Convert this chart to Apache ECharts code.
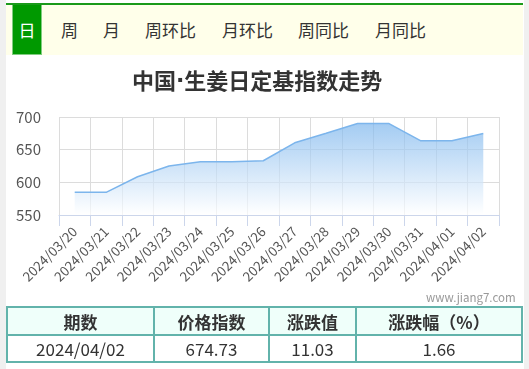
<!DOCTYPE html>
<html>
<head>
<meta charset="utf-8">
<script src="https://cdn.jsdelivr.net/npm/echarts@6/dist/echarts.min.js"></script>
<style>
  html, body { margin: 0; padding: 0; background: #f0f0f0; font-family: "Noto Sans CJK SC", "Noto Sans", sans-serif; }
  #wrap { position: absolute; left: 6px; top: 0; width: 518px; height: 369px; background: #fff; }
  #topbar { position: absolute; left: 0; top: 3px; width: 517px; height: 2px; background: #1a9a1a; }
  #tabs { position: absolute; left: 0; top: 5px; width: 517px; height: 50px; background: #ffffea; }
  .tab { position: absolute; top: 0; height: 50px; line-height: 50px; font-size: 17px; color: #333; }
  .tab.on { left: 6px; width: 30px; background: #009900; color: #fff; text-align: center; border: 1px solid #80cc80; border-top: 0; box-sizing: border-box; }
  #chart { position: absolute; left: 0; top: 55px; width: 518px; height: 245px; }
  #mark { position: absolute; left: 420px; top: 289px; font-size: 11.5px; color: #999; }
  table { position: absolute; left: 0; top: 306px; width: 517px; border-collapse: collapse; }
  td, th { border: 2px solid #62b3ab; text-align: center; font-size: 17px; color: #333; padding: 0; }
  th { background: #effffa; height: 26px; font-weight: bold; }
  td { height: 25px; }
</style>
</head>
<body>
<div id="wrap">
  <div id="topbar"></div>
  <div id="tabs">
    <div class="tab on">日</div>
    <div class="tab" style="left:55px">周</div>
    <div class="tab" style="left:97px">月</div>
    <div class="tab" style="left:139px">周环比</div>
    <div class="tab" style="left:216px">月环比</div>
    <div class="tab" style="left:292px">周同比</div>
    <div class="tab" style="left:369px">月同比</div>
  </div>
  <div id="chart"></div>
  <div id="mark">www.jiang7.com</div>
  <table>
    <tr><th style="width:145px">期数</th><th style="width:113px">价格指数</th><th style="width:85px">涨跌值</th><th>涨跌幅（%）</th></tr>
    <tr><td>2024/04/02</td><td>674.73</td><td>11.03</td><td>1.66</td></tr>
  </table>
</div>
<script>
var fechas = ['2024/03/20', '2024/03/21', '2024/03/22', '2024/03/23', '2024/03/24', '2024/03/25', '2024/03/26',
    '2024/03/27', '2024/03/28', '2024/03/29', '2024/03/30', '2024/03/31', '2024/04/01', '2024/04/02'];
var indices = [584.7, 584.7, 608.5, 625.0, 631.5, 631.5, 633.0, 660.5, 675.0, 690.0, 690.0, 663.7, 663.7, 674.73];

var chartDom = document.getElementById('chart');
var charIndice = echarts.init(chartDom);
var optionIndice = {
    animation: false,
    title: {
        // el punto medio va con otra fuente para que no sea de ancho completo
        text: '中国{d|·}生姜日定基指数走势',
        left: 121,
        top: 10,
        textStyle: {
            fontSize: 22, fontWeight: 'bold', color: '#333', fontFamily: 'Noto Sans CJK SC',
            rich: { d: { fontSize: 22, fontWeight: 'bold', color: '#333', fontFamily: 'DejaVu Sans' } }
        }
    },
    grid: { left: 53, right: 25, top: 62, bottom: 85 },
    xAxis: {
        type: 'category',
        boundaryGap: true,
        data: fechas,
        axisLine: { lineStyle: { color: '#ccd6eb', width: 1 } },
        axisTick: { show: true, length: 11, lineStyle: { color: '#ccd6eb' } },
        splitLine: { show: true, lineStyle: { color: '#dcdcdc' } },
        axisLabel: { rotate: 45, margin: 14, fontSize: 13.5, color: '#555', fontFamily: 'Noto Sans CJK SC' }
    },
    yAxis: {
        type: 'value',
        min: 550,
        max: 700,
        interval: 50,
        axisLine: { show: false },
        axisTick: { show: false },
        splitLine: { lineStyle: { color: '#dcdcdc' } },
        axisLabel: { margin: 18, fontSize: 15, color: '#555', fontFamily: 'Noto Sans CJK SC' }
    },
    series: [{
        type: 'line',
        data: indices,
        symbol: 'none',
        lineStyle: { color: '#7cb5ec', width: 1.5 },
        areaStyle: {
            color: new echarts.graphic.LinearGradient(0, 0, 0, 1, [
                { offset: 0, color: 'rgba(124,181,236,1)' },
                { offset: 1, color: 'rgba(255,255,255,1)' }
            ])
        }
    }]
};
charIndice.setOption(optionIndice);
</script>
</body>
</html>
